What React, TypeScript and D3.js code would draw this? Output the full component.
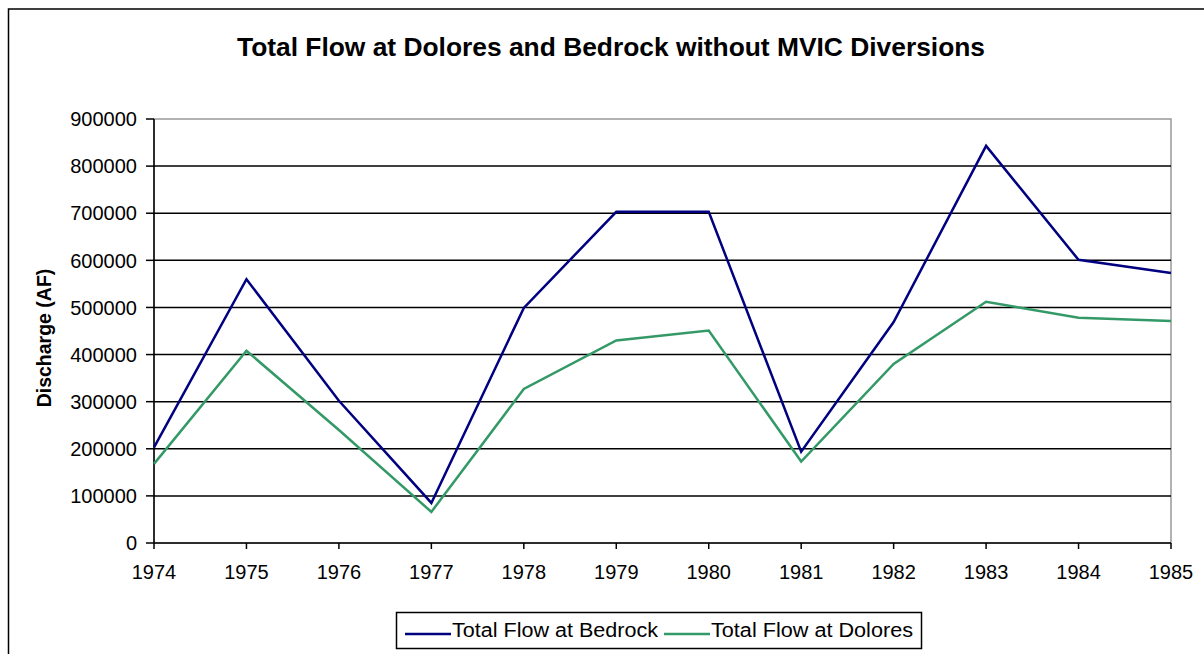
import React from "react";
import * as d3 from "d3";

const years = [1974, 1975, 1976, 1977, 1978, 1979, 1980, 1981, 1982, 1983, 1984, 1985];
const bedrock = [203000, 560000, 302000, 85000, 499000, 703000, 703000, 194000, 469000, 843000, 601000, 573000];
const dolores = [168000, 408000, 240000, 66000, 327000, 430000, 451000, 173000, 380000, 512000, 478000, 471000];
const yTicks = [0, 100000, 200000, 300000, 400000, 500000, 600000, 700000, 800000, 900000];
const seriesNames = ["Total Flow at Bedrock", "Total Flow at Dolores"];
const seriesColors = ["#000080", "#339966"];

export default function App() {
  const W = 1204, H = 654;
  const left = 154, right = 1171, top = 119, bottom = 543;
  const x = d3.scaleLinear().domain([1974, 1985]).range([left, right]);
  const y = d3.scaleLinear().domain([0, 900000]).range([bottom, top]);
  const line = d3.line<number>().x((_, i) => x(years[i])).y((d) => y(d));
  const font = "'Liberation Sans', Arial, sans-serif";
  const series = [bedrock, dolores];
  const legendX = [405, 664];
  const legendTextLen = [206, 202];
  return (
    <svg width={W} height={H} style={{ position: "absolute", left: 0, top: 0 }} fontFamily={font}>
      <rect x={0} y={0} width={W} height={H} fill="#fff" />
      <rect x={8.5} y={9} width={W + 10} height={H + 10} fill="none" stroke="#000" strokeWidth={1.5} />
      <text x={237} y={56} fontSize={25} fontWeight="bold" fill="#000" textLength={748} lengthAdjust="spacingAndGlyphs">
        Total Flow at Dolores and Bedrock without MVIC Diversions
      </text>
      {/* plot border */}
      <rect x={left} y={top} width={right - left} height={bottom - top} fill="none" stroke="#999" strokeWidth={1.5} />
      {yTicks.filter((t) => t > 0 && t < 900000).map((t) => (
        <line key={t} x1={left} x2={right} y1={y(t)} y2={y(t)} stroke="#000" strokeWidth={1.5} />
      ))}
      {/* axes */}
      <line x1={left} x2={left} y1={top} y2={bottom} stroke="#000" strokeWidth={1.5} />
      <line x1={left} x2={right} y1={bottom} y2={bottom} stroke="#000" strokeWidth={1.5} />
      {yTicks.map((t) => (
        <g key={"yt" + t}>
          <line x1={left - 8} x2={left} y1={y(t)} y2={y(t)} stroke="#000" strokeWidth={1.5} />
          <text x={left - 17} y={y(t)} dy="0.36em" textAnchor="end" fontSize={20} fill="#000">
            {t}
          </text>
        </g>
      ))}
      {years.map((yr) => (
        <g key={"xt" + yr}>
          <line x1={x(yr)} x2={x(yr)} y1={bottom} y2={bottom + 6} stroke="#000" strokeWidth={1.5} />
          <text x={x(yr)} y={579} textAnchor="middle" fontSize={20} fill="#000">
            {yr}
          </text>
        </g>
      ))}
      <text transform={`translate(51,${338}) rotate(-90)`} textAnchor="middle" fontSize={19.5} fontWeight="bold" fill="#000">
        Discharge (AF)
      </text>
      {series.map((s, i) => (
        <path key={i} d={line(s) || ""} fill="none" stroke={seriesColors[i]} strokeWidth={2.5} />
      ))}
      {/* legend */}
      <rect x={396.5} y={612.5} width={525} height={36} fill="#fff" stroke="#000" strokeWidth={1.5} />
      {seriesNames.map((n, i) => {
        const lx = legendX[i];
        return (
          <g key={n}>
            <line x1={lx} x2={lx + 46} y1={634} y2={634} stroke={seriesColors[i]} strokeWidth={2.5} />
            <text x={lx + 47} y={630} dy="0.36em" fontSize={20} fill="#000" textLength={legendTextLen[i]} lengthAdjust="spacingAndGlyphs">
              {n}
            </text>
          </g>
        );
      })}
    </svg>
  );
}
